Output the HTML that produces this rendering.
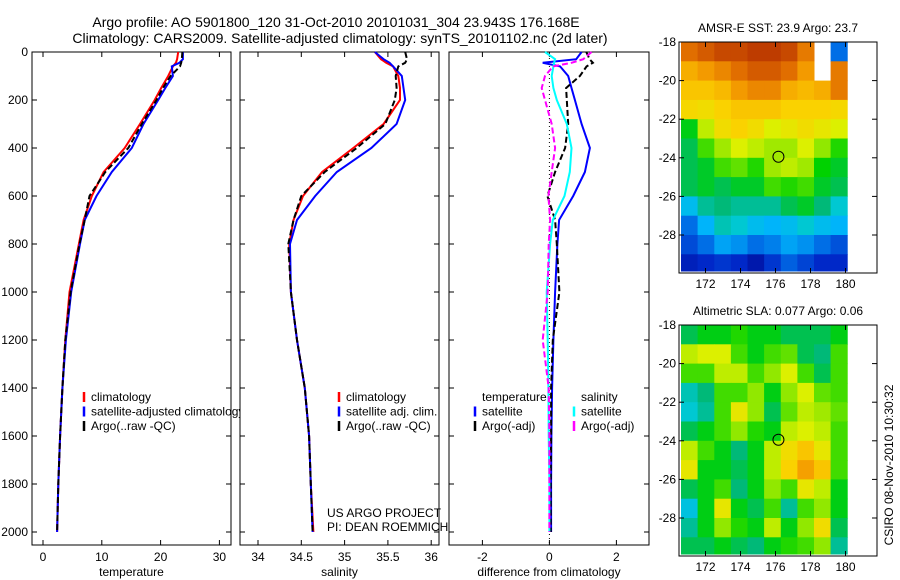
<!DOCTYPE html>
<html><head><meta charset="utf-8">
<style>
html,body{margin:0;padding:0;background:#fff;}
svg{display:block;font-family:"Liberation Sans",sans-serif;}
text{fill:#000;}
</style></head>
<body>
<svg id="fig" width="900" height="580" viewBox="0 0 900 580" xmlns="http://www.w3.org/2000/svg">
<rect width="900" height="580" fill="#fff"/>
<text x="336" y="27" font-size="14" text-anchor="middle">Argo profile: AO 5901800_120 31-Oct-2010 20101031_304 23.943S 176.168E</text>
<text x="340" y="43" font-size="14" text-anchor="middle">Climatology: CARS2009. Satellite-adjusted climatology: synTS_20101102.nc (2d later)</text>
<g id="g"></g>
</svg>
<script>
// ---- profile data ----
const depths = [0,30,45,60,100,150,200,300,400,500,600,700,800,1000,1200,1400,1600,1800,2000];
const tempClim = [23.0,22.8,22.6,22.1,21.3,20.1,19.0,16.5,13.9,10.3,8.3,6.9,6.1,4.5,3.8,3.3,2.9,2.6,2.4];
const tempSat  = [23.8,23.8,23.2,21.9,22.1,20.8,19.6,17.1,15.1,11.7,9.1,7.1,6.3,4.8,3.9,3.3,2.9,2.6,2.4];
const tempArgo = [23.7,23.6,23.5,23.3,21.7,20.4,19.3,16.8,14.5,10.6,7.9,7.1,6.2,4.7,3.8,3.3,2.9,2.6,2.4];
const salClim = [35.35,35.42,35.48,35.56,35.62,35.64,35.64,35.45,35.10,34.74,34.52,34.41,34.36,34.38,34.45,34.54,34.59,34.61,34.64];
const salSat  = [35.35,35.45,35.52,35.56,35.66,35.68,35.70,35.60,35.31,34.91,34.66,34.45,34.37,34.38,34.45,34.54,34.59,34.61,34.63];
const salArgo = [35.70,35.72,35.70,35.62,35.59,35.60,35.58,35.47,35.14,34.77,34.50,34.41,34.35,34.38,34.45,34.54,34.59,34.61,34.63];
const dTempSat  = [0.96,0.8,-0.2,0.32,0.56,0.66,0.76,0.96,1.21,1.06,0.71,0.29,0.24,0.17,0.12,0.08,0.06,0.05,0.05];
const dTempArgo = [1.1,1.2,1.3,1.11,0.91,0.5,0.52,0.56,0.47,0.17,-0.06,0.17,0.22,0.3,0.1,0.05,0.05,0.04,0.04];
const dSalSat   = [-0.13,0.17,0.14,0.12,0.07,0.12,0.22,0.52,0.66,0.61,0.45,0.1,0.02,-0.08,-0.05,-0.03,-0.02,0,0];
const dSalArgo  = [1.26,1.01,0.66,0.11,-0.13,-0.23,-0.13,0.07,0.17,0.07,-0.03,0.02,-0.02,-0.05,-0.2,-0.02,0,0,0];
const depthTicks = [0,200,400,600,800,1000,1200,1400,1600,1800,2000];
const tempTicks = [0,10,20,30];
const salTicks = [34,34.5,35,35.5,36];
const salTickLabels = ["34","34.5","35","35.5","36"];
const diffTicks = [-2,0,2];
const diffTickLabels = ["-2","0","2"];
// ---- map data (rows 18..30 S, cols 170.6..180.1 E) ----
const mapLats = [18,19,20,21,22,23,24,25,26,27,28,29];
const mapLons = [170.6,171.55,172.5,173.45,174.4,175.35,176.3,177.25,178.2,179.15];
const sstGrid = [
[0.82,0.85,0.88,0.88,0.9,0.9,0.88,0.8,null,0.2],
[0.72,0.75,0.78,0.82,0.85,0.85,0.82,0.75,null,0.8],
[0.68,0.68,0.7,0.75,0.78,0.78,0.72,0.7,0.72,0.8],
[0.65,0.64,0.66,0.68,0.68,0.68,0.66,0.66,0.66,0.65],
[0.45,0.58,0.64,0.66,0.64,0.6,0.62,0.64,0.62,0.6],
[0.42,0.5,0.56,0.6,0.58,0.56,0.56,0.6,0.55,0.48],
[0.42,0.44,0.5,0.52,0.48,0.56,0.58,0.56,0.46,0.44],
[0.42,0.44,0.42,0.44,0.44,0.5,0.48,0.5,0.44,0.42],
[0.3,0.38,0.4,0.38,0.38,0.38,0.42,0.44,0.4,0.34],
[0.2,0.28,0.36,0.34,0.3,0.28,0.3,0.34,0.3,0.28],
[0.15,0.2,0.26,0.24,0.2,0.22,0.26,0.24,0.2,0.16],
[0.08,0.1,0.12,0.1,0.06,0.12,0.18,0.14,0.1,0.1]];
const slaGrid = [
[0.42,0.45,0.45,0.48,0.45,0.45,0.42,0.42,0.42,0.45],
[0.58,0.6,0.6,0.5,0.45,0.5,0.52,0.42,0.4,0.5],
[0.5,0.5,0.58,0.58,0.5,0.55,0.6,0.5,0.42,0.5],
[0.36,0.4,0.5,0.5,0.55,0.45,0.55,0.6,0.52,0.5],
[0.34,0.38,0.5,0.62,0.55,0.42,0.52,0.58,0.56,0.52],
[0.42,0.45,0.5,0.55,0.48,0.45,0.58,0.6,0.58,0.5],
[0.58,0.5,0.45,0.4,0.45,0.58,0.64,0.68,0.62,0.5],
[0.62,0.45,0.45,0.42,0.45,0.58,0.66,0.74,0.68,0.5],
[0.42,0.45,0.5,0.4,0.45,0.55,0.5,0.62,0.58,0.45],
[0.32,0.45,0.62,0.45,0.42,0.5,0.38,0.5,0.55,0.45],
[0.38,0.45,0.55,0.48,0.45,0.58,0.45,0.55,0.64,0.42],
[0.42,0.42,0.45,0.42,0.4,0.45,0.48,0.5,0.55,0.38]];
const mapLatTicks = [18,20,22,24,26,28];
const mapLonTicks = [172,174,176,178,180];
const argoLon = 176.168, argoLat = 23.943;

const NS="http://www.w3.org/2000/svg";
const G=document.getElementById('g');
function mk(tag,at,parent){const e=document.createElementNS(NS,tag);for(const k in at)e.setAttribute(k,at[k]);(parent||G).appendChild(e);return e;}
const yD = d => 52 + d*0.24;
const cmapStops=[[0,0,0,130],[0.1,0,40,200],[0.2,0,110,230],[0.28,0,180,250],[0.34,0,200,210],[0.4,0,185,120],[0.46,0,210,0],[0.54,130,230,0],[0.6,220,240,0],[0.66,250,210,0],[0.74,245,160,0],[0.82,225,110,0],[0.9,190,60,0],[1,150,20,0]];
function cmap(v){
  v=Math.max(0,Math.min(1,v));
  for(let i=1;i<cmapStops.length;i++){
    const a=cmapStops[i-1],b=cmapStops[i];
    if(v<=b[0]){const t=(v-a[0])/(b[0]-a[0]);
      return `rgb(${Math.round(a[1]+(b[1]-a[1])*t)},${Math.round(a[2]+(b[2]-a[2])*t)},${Math.round(a[3]+(b[3]-a[3])*t)})`;}
  }
  return 'rgb(150,20,0)';
}

function panel(name,x0,x1,xs,ticks,labels,xlabel,ylabels){
  const box=mk('rect',{x:x0,y:52,width:x1-x0,height:493,fill:'#fff',stroke:'#000','stroke-width':1});
  
  
  depthTicks.forEach(d=>{
    const y=yD(d);
    mk('line',{x1:x0,x2:x0+5,y1:y,y2:y,stroke:'#000'});
    mk('line',{x1:x1-5,x2:x1,y1:y,y2:y,stroke:'#000'});
    if(ylabels){const t=mk('text',{x:x0-4,y:y+4,'font-size':12,'text-anchor':'end'});t.textContent=d;
      
      }
  });
  ticks.forEach((v,i)=>{
    const x=xs(v);
    mk('line',{x1:x,x2:x,y1:52,y2:57,stroke:'#000'});
    mk('line',{x1:x,x2:x,y1:540,y2:545,stroke:'#000'});
    const t=mk('text',{x:x,y:561,'font-size':12,'text-anchor':'middle'});t.textContent=labels[i];
    
    
  });
  const xl=mk('text',{x:(x0+x1)/2,y:576,'font-size':12,'text-anchor':'middle'});xl.textContent=xlabel;
  
  
}
function line(name,vals,xs,color,dash,w){
  const p=vals.map((v,i)=>`${i?'L':'M'}${xs(v).toFixed(1)},${yD(depths[i]).toFixed(1)}`).join('');
  const e=mk('path',{d:p,fill:'none',stroke:color,'stroke-width':w||2,'stroke-dasharray':dash||'none'});
  
  
}
function legend(items,x,y0){
  items.forEach((it,i)=>{
    const y=y0+i*14.5;
    if(it[1]) mk('line',{x1:x,x2:x,y1:y-5,y2:y+5,stroke:it[1],'stroke-width':2.5});
    const t=mk('text',{x:x+7,y:y+4,'font-size':12});t.textContent=it[0];
    
    
  });
}
// panel 1
const xT=v=>43+v*5.88;
panel('temperature',32,231,xT,tempTicks,tempTicks.map(String),'temperature',true);
line('temp-climatology',tempClim,xT,'#f00');
line('temp-satellite-adjusted',tempSat,xT,'#00f');
line('temp-argo',tempArgo,xT,'#000','6,3');
legend([['climatology','#f00'],['satellite-adjusted climatology','#00f'],['Argo(..raw -QC)','#000']],84,397);
// panel 2
const xS=v=>258+(v-34)*86.6;
panel('salinity',240,439,xS,salTicks,salTickLabels,'salinity',false);
line('sal-climatology',salClim,xS,'#f00');
line('sal-satellite-adjusted',salSat,xS,'#00f');
line('sal-argo',salArgo,xS,'#000','6,3');
legend([['climatology','#f00'],['satellite adj. clim.','#00f'],['Argo(..raw -QC)','#000']],339,397);
[['US ARGO PROJECT',517],['PI: DEAN ROEMMICH',531]].forEach(a=>{const t=mk('text',{x:327,y:a[1],'font-size':12});t.textContent=a[0];
  
  });
// panel 3
const xF=v=>549.4+v*33.5;
panel('difference',449,649,xF,diffTicks,diffTickLabels,'difference from climatology',false);
mk('line',{x1:xF(0),x2:xF(0),y1:54,y2:544,stroke:'#000','stroke-dasharray':'1,3'});
line('diff-temp-satellite',dTempSat,xF,'#00f');
line('diff-temp-argo',dTempArgo,xF,'#000','6,3');
line('diff-sal-satellite',dSalSat,xF,'#0ff');
line('diff-sal-argo',dSalArgo,xF,'#f0f','6,3');
legend([['temperature',null],['satellite','#00f'],['Argo(-adj)','#000']],475,397);
legend([['salinity',null],['satellite','#0ff'],['Argo(-adj)','#f0f']],574,397);

// maps
function map(name,grid,top,title){
  const L=679,R=877,bot=top+231;
  const lx=v=>681+(v-170.6)*17.5, ly=v=>top+(v-18)*19.3;
  const t=mk('text',{x:778,y:top-10,'font-size':12,'text-anchor':'middle'});t.textContent=title;
  
  
  const box=mk('rect',{x:L,y:top,width:R-L,height:bot-top,fill:'#fff',stroke:'#000'});
  
  
  grid.forEach((row,r)=>row.forEach((v,c)=>{
    if(v===null)return;
    const x=lx(mapLons[c]), y=ly(mapLats[r]);
    const w=(c<mapLons.length-1?lx(mapLons[c+1]):lx(180.1))-x;
    const h=Math.min(ly(mapLats[r]+1),bot-2)-y;
    const e=mk('rect',{x:x.toFixed(1),y:y.toFixed(1),width:(w+0.5).toFixed(1),height:(h+0.5).toFixed(1),fill:cmap(v)});
    
    
  }));
  mk('rect',{x:L,y:top,width:R-L,height:bot-top,fill:'none',stroke:'#000'});
  mapLatTicks.forEach(v=>{const y=ly(v);
    mk('line',{x1:L,x2:L+5,y1:y,y2:y,stroke:'#000'});mk('line',{x1:R-5,x2:R,y1:y,y2:y,stroke:'#000'});
    const tt=mk('text',{x:L-3,y:y+4,'font-size':12,'text-anchor':'end'});tt.textContent='-'+v;
    
    });
  mapLonTicks.forEach(v=>{const x=lx(v);
    mk('line',{x1:x,x2:x,y1:top,y2:top+5,stroke:'#000'});mk('line',{x1:x,x2:x,y1:bot-5,y2:bot,stroke:'#000'});
    const tt=mk('text',{x:x,y:bot+15,'font-size':12,'text-anchor':'middle'});tt.textContent=v;
    
    });
  const c=mk('circle',{cx:lx(argoLon),cy:ly(argoLat),r:5.5,fill:'none',stroke:'#000','stroke-width':1});
  
  
}
map('sst-map',sstGrid,42,'AMSR-E SST: 23.9 Argo: 23.7');
map('sla-map',slaGrid,325,'Altimetric SLA: 0.077 Argo: 0.06');
const ts=mk('text',{x:0,y:0,'font-size':12,'text-anchor':'middle',transform:'translate(893,465) rotate(-90)'});
ts.textContent='CSIRO 08-Nov-2010 10:30:32';


</script>
</body></html>
